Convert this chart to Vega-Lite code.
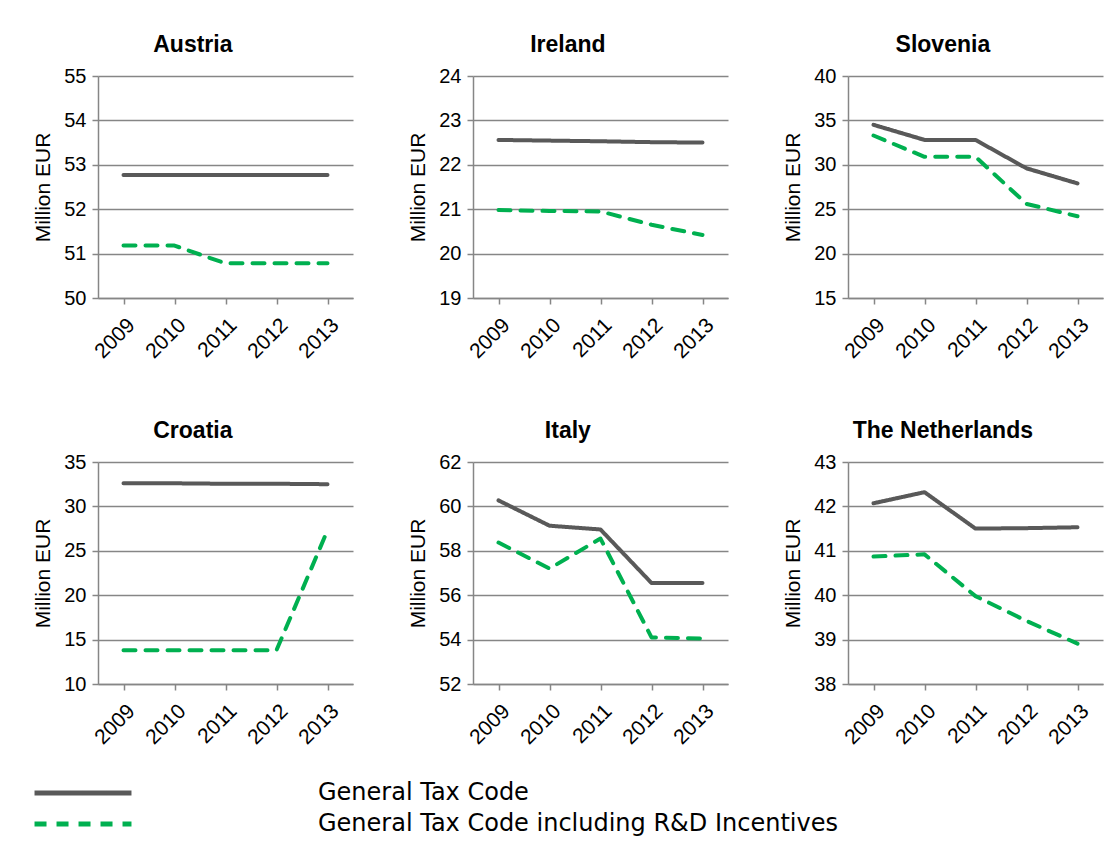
{
  "$schema": "https://vega.github.io/schema/vega-lite/v6.json",
  "background": "white",
  "padding": {"left": 32, "top": 34, "right": 5, "bottom": 5},
  "datasets": {
    "d": [
      {"country": "Austria", "series": "General Tax Code", "year": "2009", "value": 52.77},
      {"country": "Austria", "series": "General Tax Code", "year": "2010", "value": 52.77},
      {"country": "Austria", "series": "General Tax Code", "year": "2011", "value": 52.77},
      {"country": "Austria", "series": "General Tax Code", "year": "2012", "value": 52.77},
      {"country": "Austria", "series": "General Tax Code", "year": "2013", "value": 52.77},
      {"country": "Austria", "series": "General Tax Code including R&D Incentives", "year": "2009", "value": 51.18},
      {"country": "Austria", "series": "General Tax Code including R&D Incentives", "year": "2010", "value": 51.18},
      {"country": "Austria", "series": "General Tax Code including R&D Incentives", "year": "2011", "value": 50.78},
      {"country": "Austria", "series": "General Tax Code including R&D Incentives", "year": "2012", "value": 50.78},
      {"country": "Austria", "series": "General Tax Code including R&D Incentives", "year": "2013", "value": 50.78},
      {"country": "Ireland", "series": "General Tax Code", "year": "2009", "value": 22.56},
      {"country": "Ireland", "series": "General Tax Code", "year": "2010", "value": 22.545},
      {"country": "Ireland", "series": "General Tax Code", "year": "2011", "value": 22.53},
      {"country": "Ireland", "series": "General Tax Code", "year": "2012", "value": 22.51},
      {"country": "Ireland", "series": "General Tax Code", "year": "2013", "value": 22.5},
      {"country": "Ireland", "series": "General Tax Code including R&D Incentives", "year": "2009", "value": 20.98},
      {"country": "Ireland", "series": "General Tax Code including R&D Incentives", "year": "2010", "value": 20.96},
      {"country": "Ireland", "series": "General Tax Code including R&D Incentives", "year": "2011", "value": 20.95},
      {"country": "Ireland", "series": "General Tax Code including R&D Incentives", "year": "2012", "value": 20.65},
      {"country": "Ireland", "series": "General Tax Code including R&D Incentives", "year": "2013", "value": 20.42},
      {"country": "Slovenia", "series": "General Tax Code", "year": "2009", "value": 34.5},
      {"country": "Slovenia", "series": "General Tax Code", "year": "2010", "value": 32.8},
      {"country": "Slovenia", "series": "General Tax Code", "year": "2011", "value": 32.8},
      {"country": "Slovenia", "series": "General Tax Code", "year": "2012", "value": 29.6},
      {"country": "Slovenia", "series": "General Tax Code", "year": "2013", "value": 27.9},
      {"country": "Slovenia", "series": "General Tax Code including R&D Incentives", "year": "2009", "value": 33.3},
      {"country": "Slovenia", "series": "General Tax Code including R&D Incentives", "year": "2010", "value": 30.9},
      {"country": "Slovenia", "series": "General Tax Code including R&D Incentives", "year": "2011", "value": 30.9},
      {"country": "Slovenia", "series": "General Tax Code including R&D Incentives", "year": "2012", "value": 25.6},
      {"country": "Slovenia", "series": "General Tax Code including R&D Incentives", "year": "2013", "value": 24.2},
      {"country": "Croatia", "series": "General Tax Code", "year": "2009", "value": 32.6},
      {"country": "Croatia", "series": "General Tax Code", "year": "2010", "value": 32.6},
      {"country": "Croatia", "series": "General Tax Code", "year": "2011", "value": 32.55},
      {"country": "Croatia", "series": "General Tax Code", "year": "2012", "value": 32.55},
      {"country": "Croatia", "series": "General Tax Code", "year": "2013", "value": 32.5},
      {"country": "Croatia", "series": "General Tax Code including R&D Incentives", "year": "2009", "value": 13.8},
      {"country": "Croatia", "series": "General Tax Code including R&D Incentives", "year": "2010", "value": 13.8},
      {"country": "Croatia", "series": "General Tax Code including R&D Incentives", "year": "2011", "value": 13.8},
      {"country": "Croatia", "series": "General Tax Code including R&D Incentives", "year": "2012", "value": 13.8},
      {"country": "Croatia", "series": "General Tax Code including R&D Incentives", "year": "2013", "value": 27.3},
      {"country": "Italy", "series": "General Tax Code", "year": "2009", "value": 60.27},
      {"country": "Italy", "series": "General Tax Code", "year": "2010", "value": 59.13},
      {"country": "Italy", "series": "General Tax Code", "year": "2011", "value": 58.96},
      {"country": "Italy", "series": "General Tax Code", "year": "2012", "value": 56.55},
      {"country": "Italy", "series": "General Tax Code", "year": "2013", "value": 56.55},
      {"country": "Italy", "series": "General Tax Code including R&D Incentives", "year": "2009", "value": 58.37},
      {"country": "Italy", "series": "General Tax Code including R&D Incentives", "year": "2010", "value": 57.2},
      {"country": "Italy", "series": "General Tax Code including R&D Incentives", "year": "2011", "value": 58.55},
      {"country": "Italy", "series": "General Tax Code including R&D Incentives", "year": "2012", "value": 54.1},
      {"country": "Italy", "series": "General Tax Code including R&D Incentives", "year": "2013", "value": 54.05},
      {"country": "The Netherlands", "series": "General Tax Code", "year": "2009", "value": 42.07},
      {"country": "The Netherlands", "series": "General Tax Code", "year": "2010", "value": 42.32},
      {"country": "The Netherlands", "series": "General Tax Code", "year": "2011", "value": 41.5},
      {"country": "The Netherlands", "series": "General Tax Code", "year": "2012", "value": 41.51},
      {"country": "The Netherlands", "series": "General Tax Code", "year": "2013", "value": 41.53},
      {"country": "The Netherlands", "series": "General Tax Code including R&D Incentives", "year": "2009", "value": 40.87},
      {"country": "The Netherlands", "series": "General Tax Code including R&D Incentives", "year": "2010", "value": 40.92},
      {"country": "The Netherlands", "series": "General Tax Code including R&D Incentives", "year": "2011", "value": 39.98},
      {"country": "The Netherlands", "series": "General Tax Code including R&D Incentives", "year": "2012", "value": 39.42},
      {"country": "The Netherlands", "series": "General Tax Code including R&D Incentives", "year": "2013", "value": 38.91}
    ]
  },
  "data": {"name": "d"},
  "columns": 3,
  "bounds": "flush",
  "spacing": {"row": 164, "column": 120},
  "resolve": {"scale": {"x": "independent", "y": "independent", "color": "shared", "strokeDash": "shared"}},
  "concat": [
    {
      "title": "Austria", "width": 255, "height": 222,
      "transform": [{"filter": "datum.country === 'Austria'"}],
      "mark": {"type": "line", "strokeWidth": 4, "strokeCap": "round", "strokeJoin": "round"},
      "encoding": {
        "x": {"field": "year", "type": "ordinal", "title": null},
        "y": {"field": "value", "type": "quantitative", "title": "Million EUR", "scale": {"domain": [50, 55], "zero": false, "nice": false}, "axis": {"values": [50, 51, 52, 53, 54, 55]}},
        "color": {"field": "series", "type": "nominal", "scale": {"domain": ["General Tax Code", "General Tax Code including R&D Incentives"], "range": ["#595959", "#00B050"]},
          "legend": {"orient": "none", "legendX": -66, "legendY": 704, "title": null, "symbolType": "stroke", "symbolSize": 9400, "symbolStrokeWidth": 5, "clipHeight": 26, "rowPadding": 5, "labelOffset": 184, "labelFont": "DejaVu Sans", "labelFontSize": 24, "labelColor": "black", "labelLimit": 900, "direction": "vertical",
            "encode": {"symbols": {"update": {"stroke": {"signal": "datum.value === 'General Tax Code' ? 'black' : '#3DB26B'"}}}}}},
        "strokeDash": {"field": "series", "type": "nominal", "scale": {"domain": ["General Tax Code", "General Tax Code including R&D Incentives"], "range": [[1, 0], [12, 10]]},
          "legend": {"orient": "none", "legendX": -66, "legendY": 704, "title": null, "symbolType": "stroke", "symbolSize": 9400, "symbolStrokeWidth": 5, "clipHeight": 26, "rowPadding": 5, "labelOffset": 184, "labelFont": "DejaVu Sans", "labelFontSize": 24, "labelColor": "black", "labelLimit": 900, "direction": "vertical"}}
      }
    },
    {
      "title": "Ireland", "width": 255, "height": 222,
      "transform": [{"filter": "datum.country === 'Ireland'"}],
      "mark": {"type": "line", "strokeWidth": 4, "strokeCap": "round", "strokeJoin": "round"},
      "encoding": {
        "x": {"field": "year", "type": "ordinal", "title": null},
        "y": {"field": "value", "type": "quantitative", "title": "Million EUR", "scale": {"domain": [19, 24], "zero": false, "nice": false}, "axis": {"values": [19, 20, 21, 22, 23, 24]}},
        "color": {"field": "series", "type": "nominal"},
        "strokeDash": {"field": "series", "type": "nominal"}
      }
    },
    {
      "title": "Slovenia", "width": 255, "height": 222,
      "transform": [{"filter": "datum.country === 'Slovenia'"}],
      "mark": {"type": "line", "strokeWidth": 4, "strokeCap": "round", "strokeJoin": "round"},
      "encoding": {
        "x": {"field": "year", "type": "ordinal", "title": null},
        "y": {"field": "value", "type": "quantitative", "title": "Million EUR", "scale": {"domain": [15, 40], "zero": false, "nice": false}, "axis": {"values": [15, 20, 25, 30, 35, 40]}},
        "color": {"field": "series", "type": "nominal"},
        "strokeDash": {"field": "series", "type": "nominal"}
      }
    },
    {
      "title": "Croatia", "width": 255, "height": 222,
      "transform": [{"filter": "datum.country === 'Croatia'"}],
      "mark": {"type": "line", "strokeWidth": 4, "strokeCap": "round", "strokeJoin": "round"},
      "encoding": {
        "x": {"field": "year", "type": "ordinal", "title": null},
        "y": {"field": "value", "type": "quantitative", "title": "Million EUR", "scale": {"domain": [10, 35], "zero": false, "nice": false}, "axis": {"values": [10, 15, 20, 25, 30, 35]}},
        "color": {"field": "series", "type": "nominal"},
        "strokeDash": {"field": "series", "type": "nominal"}
      }
    },
    {
      "title": "Italy", "width": 255, "height": 222,
      "transform": [{"filter": "datum.country === 'Italy'"}],
      "mark": {"type": "line", "strokeWidth": 4, "strokeCap": "round", "strokeJoin": "round"},
      "encoding": {
        "x": {"field": "year", "type": "ordinal", "title": null},
        "y": {"field": "value", "type": "quantitative", "title": "Million EUR", "scale": {"domain": [52, 62], "zero": false, "nice": false}, "axis": {"values": [52, 54, 56, 58, 60, 62]}},
        "color": {"field": "series", "type": "nominal"},
        "strokeDash": {"field": "series", "type": "nominal"}
      }
    },
    {
      "title": "The Netherlands", "width": 255, "height": 222,
      "transform": [{"filter": "datum.country === 'The Netherlands'"}],
      "mark": {"type": "line", "strokeWidth": 4, "strokeCap": "round", "strokeJoin": "round"},
      "encoding": {
        "x": {"field": "year", "type": "ordinal", "title": null},
        "y": {"field": "value", "type": "quantitative", "title": "Million EUR", "scale": {"domain": [38, 43], "zero": false, "nice": false}, "axis": {"values": [38, 39, 40, 41, 42, 43]}},
        "color": {"field": "series", "type": "nominal"},
        "strokeDash": {"field": "series", "type": "nominal"}
      }
    }
  ],
  "config": {
    "view": {"stroke": null},
    "font": "Liberation Sans",
    "title": {"fontSize": 23, "fontWeight": "bold", "font": "Liberation Sans", "anchor": "middle", "frame": "bounds", "color": "black", "offset": 9},
    "axis": {"domainColor": "#868686", "domainWidth": 1.5, "tickColor": "#868686", "tickWidth": 1.5, "gridColor": "#868686", "gridWidth": 1.5, "labelColor": "black", "labelFontSize": 20, "labelFont": "Liberation Sans", "titleFont": "Liberation Sans", "titleFontSize": 21, "titleFontWeight": "normal", "titleColor": "black"},
    "axisX": {"labelAngle": -45, "grid": false, "tickSize": 6, "labelPadding": 10, "domain": true, "labelFontSize": 21},
    "axisY": {"grid": true, "tickSize": 6, "labelPadding": 6, "titlePadding": 10},
    "point": {"padding": 0.5}
  }
}
